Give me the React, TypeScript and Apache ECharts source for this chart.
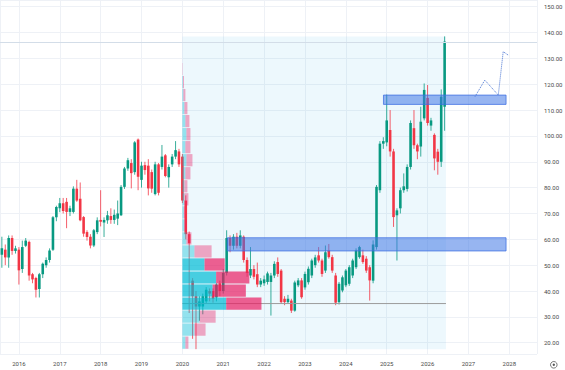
import React, { useEffect, useRef } from 'react';
import * as echarts from 'echarts';

// Monthly candles, first candle = Aug 2015
const FIRST_MONTH = 2015 + 7 / 12;
const opens = [
  54, 56, 53, 60.5, 55.5, 56, 48.5, 57.5, 59, 46.5, 45, 40.8, 46.5, 50, 52, 56, 68.5, 72, 74, 74.5,
  70.6, 70.6, 79.6, 75.7, 68.6, 62.8, 61, 57.6, 62.8, 67.5, 66.5, 67.35, 69, 67.5, 68, 69.3, 80.3, 87.4, 89.5, 86,
  98.6, 83, 88.7, 88.5, 86, 77.5, 89, 88, 92.5, 84, 89, 92, 94, 92, 75, 62, 44, 38, 34, 34,
  36, 40, 40, 37.5, 43, 40, 47, 60.5, 57.5, 61, 57.5, 61, 52, 46, 48.5, 46.5, 42.5, 43, 43.5, 43.5,
  46, 51.2, 47.9, 37, 35.7, 36.3, 32.4, 42.2, 44.1, 41.4, 43.4, 46, 50, 53.8, 51.8, 47.9, 55.7, 53.1, 46, 35.7,
  40.2, 42.2, 42.8, 46, 49.2, 53.1, 53.8, 52.5, 49.2, 44, 57, 79, 97, 97.5, 102.3, 94, 69.3, 72, 79, 79.5,
  88, 103, 96.4, 95.9, 106.8, 114.7, 104, 100.4, 93.9, 90, 111.3,
];
const highs = [
  61, 58, 61.5, 61.5, 57.5, 57, 59.5, 60.5, 59.5, 47, 45.5, 47, 51, 53, 56.5, 69, 73, 76, 76, 76,
  73, 80.5, 83, 82, 69, 63.5, 62, 64, 68.5, 79, 68.5, 71, 72, 71.5, 75, 81, 88, 91.5, 91, 98,
  99, 90, 90, 91, 87, 90, 89.5, 96.5, 93, 89, 93, 98, 95, 93, 77, 63, 45, 40, 38, 39,
  41.5, 41, 41, 43, 44, 48.5, 63.5, 61.5, 62, 62.5, 63.5, 61.5, 53, 57, 50, 51, 45, 46, 47.5, 47,
  51.5, 53, 48.5, 38, 38.5, 37, 44, 45, 45, 47.5, 49.5, 52.5, 54, 57, 52.5, 57.6, 58.2, 54, 47, 43.5,
  46, 48.5, 50, 52.5, 56.5, 57.5, 56, 53.5, 50, 59.6, 81, 98, 99.5, 116, 110, 95, 72, 80, 85.5, 89,
  106, 110, 97, 111.3, 120.3, 119.7, 107, 101, 95, 118, 138.5,
];
const lows = [
  49, 50, 49, 54, 54.5, 42.5, 47, 57, 44, 43, 37.5, 37.5, 45, 49, 51, 55.5, 67, 70.5, 70, 64.3,
  69, 70, 74.5, 67, 61, 59.5, 56.5, 57, 62, 65, 60.9, 66, 66, 66, 65.5, 69, 79.5, 86.5, 79.7, 85,
  79, 80, 85, 77, 78, 77, 77, 87, 84, 80, 88, 91, 88, 74, 60, 31.5, 21.5, 17.5, 28.5, 31,
  35, 36, 35.5, 36, 38, 39, 46, 55, 56, 56.5, 56.5, 51, 45.5, 45, 44.5, 41.5, 41.5, 42, 42.5, 30.5,
  45, 45.5, 35, 34.5, 35, 31.5, 32, 41.5, 37, 40.5, 42.5, 45, 49, 51, 45.5, 47, 52.5, 47, 34.5, 34.8,
  39.5, 41.5, 42, 45, 48.5, 52.5, 50.5, 47, 36.3, 43, 56, 78, 95, 96, 92, 64.8, 51.8, 70, 78, 78.5,
  87, 95, 91, 92, 106, 104, 102, 86.7, 85, 88, 102,
];
const closes = [
  56.5, 53, 60.5, 55.5, 56.5, 48, 57, 59.5, 46, 44.5, 40.5, 46.5, 50.5, 52, 55.7, 68.5, 72.5, 74, 71, 70.6,
  72, 79.6, 75, 67.35, 62.2, 60.9, 57.6, 63.5, 67.35, 66.8, 67.5, 69.3, 67.5, 69.5, 70, 80.3, 87.4, 90.6, 85.6, 97.5,
  84.2, 88.5, 86.8, 79.7, 79.6, 89, 78, 92, 84.5, 88, 92, 94.5, 89, 75, 62, 58.5, 38, 34, 36, 38,
  40.5, 39, 37, 42.5, 40, 47, 60.5, 57.5, 61, 57.5, 61.5, 52, 47, 48.5, 45.5, 42.5, 44, 44.5, 46.8, 46,
  50.5, 46.6, 35.7, 35.7, 37, 32.4, 43.3, 44.1, 37.6, 46.6, 48.6, 51.8, 53, 51.8, 46.6, 55, 53.1, 47.9, 35.5, 42.8,
  45.3, 47.9, 49.2, 51.8, 55.7, 57, 51.2, 47.9, 44.1, 58, 80.3, 97, 98, 106, 94, 68.6, 71.2, 79, 80.5, 88,
  105, 96.4, 94, 105.5, 117.8, 105, 106, 91.3, 90, 115.2, 136.5,
];

// Volume profile (fixed range, 24 rows)
const rangeStart = 2020.0;
const rangeEnd = 2026.45;
const profileLow = 17.5;
const profileHigh = 138.5;
const profileUp = [3, 12, 17, 43.5, 30, 33.5, 22, 12, 4, 2, 1.5, 2, 2, 3, 4, 3, 4, 3, 2, 1, 0.6, 0, 0, 0];
const profileDown = [3, 11, 16, 35, 33, 33, 20, 17, 5, 2, 1.5, 4, 3, 5, 6, 5, 4, 4, 3, 2, 1, 0.3, 0, 0];
const valueAreaRows = [3, 6];

// Zones
const zoneStart = [2021.1, 2024.92];
const zoneEnd = [2027.92, 2027.92];
const zoneLow = [55.5, 112.2];
const zoneHigh = [60.6, 115.8];

// Projection path
const projX = [2027.16, 2027.4, 2027.73, 2027.85, 2027.97];
const projY = [115.2, 121.6, 115.8, 132.6, 131.3];

const priceLine = 136.2;

const UP = '#089981';
const DOWN = '#f23645';

export default function App() {
  const ref = useRef<HTMLDivElement>(null);
  useEffect(() => {
    if (!ref.current) return;
    const chart = echarts.init(ref.current, undefined, { renderer: 'svg' });

    const candleData = opens.map((o, i) => [FIRST_MONTH + i / 12, o, closes[i], lows[i], highs[i]]);
    const rows = profileUp.length;
    const rowH = (profileHigh - profileLow) / rows;
    const totals = profileUp.map((u, i) => u + profileDown[i]);
    const maxTotal = Math.max(...totals);
    const pocRow = totals.indexOf(maxTotal);
    const pocPrice = profileLow + (pocRow + 0.5) * rowH;
    const scale = (0.3 * (rangeEnd - rangeStart)) / maxTotal;
    const profileData = profileUp
      .map((u, i) => [
        profileLow + i * rowH,
        profileLow + (i + 1) * rowH,
        u,
        profileDown[i],
        i >= valueAreaRows[0] && i <= valueAreaRows[1] ? 1 : 0,
      ])
      .filter((r) => r[2] + r[3] > 0);
    const zoneData = zoneStart.map((s, i) => [s, zoneEnd[i], zoneLow[i], zoneHigh[i]]);

    const isMult = (v: number, m: number) => Math.abs(v / m - Math.round(v / m)) < 1e-6;

    chart.setOption({
      animation: false,
      backgroundColor: '#ffffff',
      grid: { left: 0, right: 28, top: 0, bottom: 16, containLabel: false, outerBoundsMode: 'none' } as any,
      xAxis: {
        type: 'value',
        min: 2015.5376,
        max: 2028.677,
        splitNumber: 13,
        minInterval: 1,
        maxInterval: 1,
        axisLine: { show: false },
        axisTick: { show: false },
        splitLine: { show: true, lineStyle: { color: '#eef1f6', width: 1 } },
        axisLabel: {
          margin: 6,
          fontSize: 6,
          fontFamily: 'Roboto',
          color: '#4a4a4a',
          formatter: (v: number) => (isMult(v, 1) ? String(Math.round(v)) : ''),
        },
      },
      yAxis: {
        type: 'value',
        position: 'right',
        min: 15.63,
        max: 152.59,
        splitNumber: 14,
        minInterval: 10,
        maxInterval: 10,
        axisLine: { show: false },
        axisTick: { show: false },
        splitLine: { show: true, lineStyle: { color: '#eef1f6', width: 1 } },
        axisLabel: {
          margin: 7,
          fontSize: 6,
          fontFamily: 'Roboto',
          color: '#4a4a4a',
          formatter: (v: number) => (isMult(v, 10) ? v.toFixed(2) : ''),
        },
      },
      series: [
        {
          type: 'custom',
          name: 'rangeBox',
          z: 1,
          silent: true,
          data: [[rangeStart, rangeEnd, profileLow, profileHigh]],
          encode: { x: [0, 1], y: [2, 3] },
          renderItem: (params: any, api: any) => {
            const p1 = api.coord([api.value(0), api.value(3)]);
            const p2 = api.coord([api.value(1), api.value(2)]);
            return {
              type: 'rect',
              shape: { x: p1[0], y: p1[1], width: p2[0] - p1[0], height: p2[1] - p1[1] },
              style: { fill: 'rgba(0,160,230,0.07)' },
            };
          },
        },
        {
          type: 'custom',
          name: 'candles',
          z: 2,
          data: candleData,
          encode: { x: 0, y: [1, 2, 3, 4] },
          renderItem: (params: any, api: any) => {
            const x = api.value(0);
            const o = api.value(1);
            const c = api.value(2);
            const l = api.value(3);
            const h = api.value(4);
            const pO = api.coord([x, o]);
            const pC = api.coord([x, c]);
            const pL = api.coord([x, l]);
            const pH = api.coord([x, h]);
            const w = api.size([1 / 12, 0])[0] * 0.76;
            const color = c >= o ? UP : DOWN;
            const top = Math.min(pO[1], pC[1]);
            const hh = Math.max(Math.abs(pO[1] - pC[1]), 1);
            return {
              type: 'group',
              children: [
                { type: 'line', shape: { x1: pH[0], y1: pH[1], x2: pL[0], y2: pL[1] }, style: { stroke: color, lineWidth: 0.8 } },
                { type: 'rect', shape: { x: pO[0] - w / 2, y: top, width: w, height: hh }, style: { fill: color } },
              ],
            };
          },
          markLine: {
            silent: true,
            symbol: ['none', 'none'],
            label: { show: false },
            lineStyle: { color: '#d3dde8', width: 1, type: 'solid' },
            data: [{ yAxis: priceLine }],
          },
        },
        {
          type: 'line',
          name: 'poc',
          z: 3,
          symbol: 'none',
          silent: true,
          lineStyle: { color: '#9c9c9c', width: 1 },
          data: [[rangeStart, pocPrice], [rangeEnd, pocPrice]],
        },
        {
          type: 'custom',
          name: 'profile',
          z: 4,
          silent: true,
          data: profileData,
          encode: { y: [0, 1] },
          renderItem: (params: any, api: any) => {
            const lo = api.value(0);
            const hi = api.value(1);
            const u = api.value(2);
            const d = api.value(3);
            const va = api.value(4) === 1;
            const xa = rangeStart;
            const xb = rangeStart + u * scale;
            const xc = xb + d * scale;
            const pA = api.coord([xa, hi]);
            const pB = api.coord([xb, lo]);
            const pC = api.coord([xc, lo]);
            const hgt = pB[1] - pA[1] - 0.8;
            return {
              type: 'group',
              children: [
                { type: 'rect', shape: { x: pA[0], y: pA[1] + 0.4, width: pB[0] - pA[0], height: hgt }, style: { fill: va ? 'rgba(0,188,212,0.7)' : 'rgba(0,188,212,0.38)' } },
                { type: 'rect', shape: { x: pB[0], y: pA[1] + 0.4, width: pC[0] - pB[0], height: hgt }, style: { fill: va ? 'rgba(233,30,99,0.7)' : 'rgba(233,30,99,0.38)' } },
              ],
            };
          },
        },
        {
          type: 'custom',
          name: 'zones',
          z: 5,
          silent: true,
          data: zoneData,
          encode: { x: [0, 1], y: [2, 3] },
          renderItem: (params: any, api: any) => {
            const p1 = api.coord([api.value(0), api.value(3)]);
            const p2 = api.coord([api.value(1), api.value(2)]);
            return {
              type: 'rect',
              shape: { x: p1[0], y: p1[1], width: p2[0] - p1[0], height: p2[1] - p1[1] },
              style: { fill: 'rgba(66,120,230,0.55)', stroke: 'rgba(60,110,225,0.75)', lineWidth: 1 },
            };
          },
        },
        {
          type: 'line',
          name: 'projection',
          z: 6,
          symbol: 'none',
          silent: true,
          lineStyle: { color: '#4a76d4', width: 1, type: 'dotted' },
          data: projX.map((x, i) => [x, projY[i]]),
        },
      ],
      graphic: [
        {
          type: 'group',
          left: 548,
          top: 359,
          children: [
            { type: 'circle', shape: { cx: 4, cy: 4, r: 3.3 }, style: { fill: 'none', stroke: '#555', lineWidth: 0.8 } },
            { type: 'circle', shape: { cx: 4, cy: 4, r: 1.2 }, style: { fill: '#555' } },
          ],
        },
      ],
    });
    return () => chart.dispose();
  }, []);
  return <div ref={ref} style={{ position: 'fixed', left: 0, top: 0, width: 565, height: 370 }} />;
}
